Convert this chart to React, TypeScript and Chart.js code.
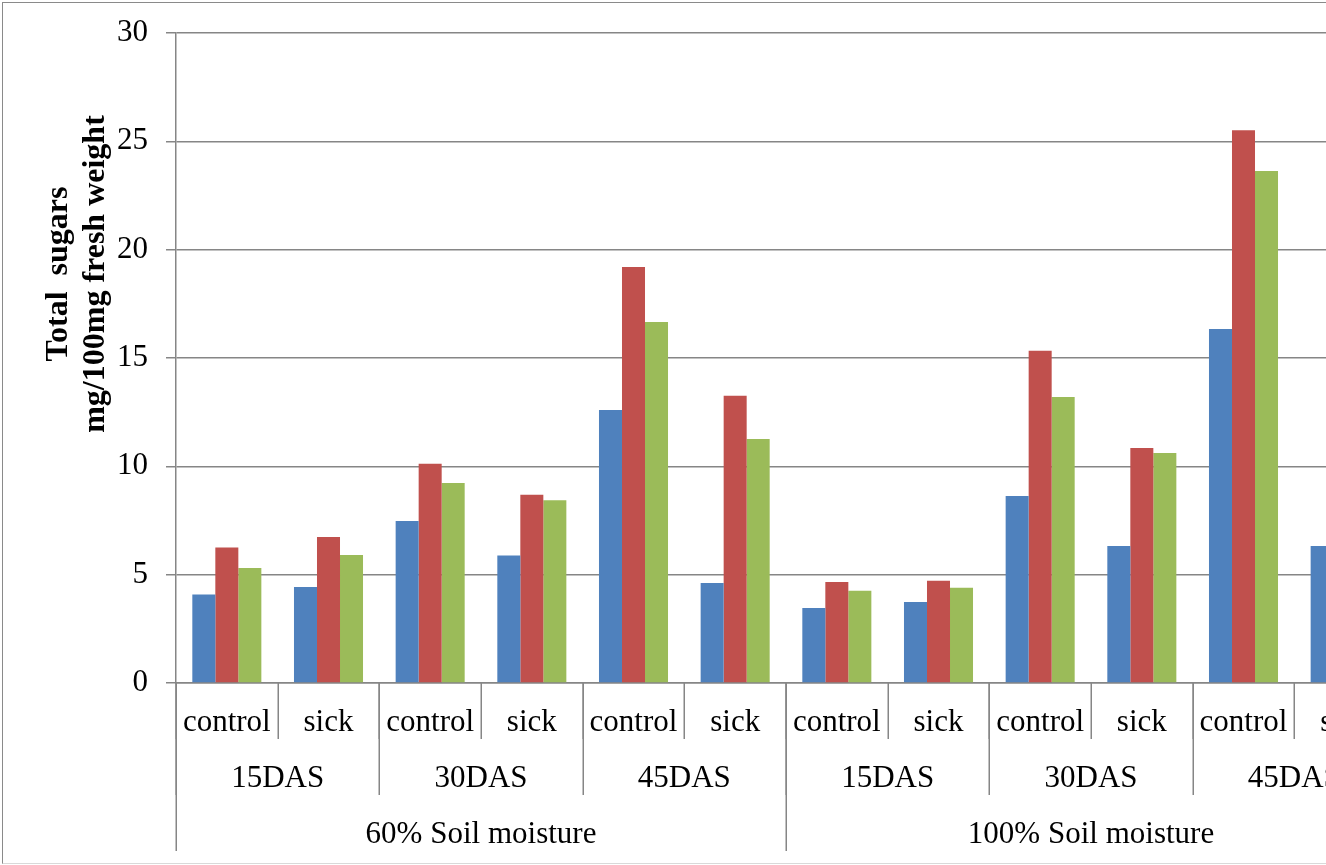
import { useEffect, useRef } from 'react';
import { Chart, registerables } from 'chart.js';

Chart.register(...registerables);

// ---- Data ----
const treatments = ['control', 'sick', 'control', 'sick', 'control', 'sick', 'control', 'sick', 'control', 'sick', 'control', 'sick'];
const stages = ['15DAS', '30DAS', '45DAS', '15DAS', '30DAS', '45DAS'];
const moistures = ['60% Soil moisture', '100% Soil moisture'];
const series1 = [4.08, 4.43, 7.48, 5.88, 12.6, 4.62, 3.46, 3.74, 8.63, 6.32, 16.34, 6.32];
const series2 = [6.25, 6.74, 10.12, 8.69, 19.2, 13.26, 4.66, 4.72, 15.34, 10.85, 25.51, 14.2];
const series3 = [5.31, 5.91, 9.23, 8.43, 16.66, 11.26, 4.26, 4.4, 13.2, 10.62, 23.63, 12.1];
const yTicks = [0, 5, 10, 15, 20, 25, 30];
const yTitleLines = ['Total  sugars', 'mg/100mg fresh weight'];

const FONT = "'Liberation Serif', 'Times New Roman', serif";
const GRID = '#868686';

const multiLevelAxis = {
  id: 'multiLevelAxis',
  afterDraw(chart: any) {
    const ctx = chart.ctx;
    const xs = chart.scales.x;
    const area = chart.chartArea;
    const top = area.bottom;
    const n = treatments.length;
    const w = xs.getPixelForValue(1) - xs.getPixelForValue(0);
    const boundary = (k: number) => (k < n ? xs.getPixelForValue(k) - w / 2 : xs.getPixelForValue(n - 1) + w / 2);
    ctx.save();
    ctx.strokeStyle = GRID;
    ctx.lineWidth = 1.5;
    const levels = [
      { labels: treatments, span: 1, lineLen: 56, base: 48 },
      { labels: stages, span: 2, lineLen: 112, base: 104 },
      { labels: moistures, span: 6, lineLen: 168, base: 160 },
    ];
    // separators
    levels.forEach((lv) => {
      for (let k = 0; k <= lv.labels.length; k++) {
        const x = Math.round(boundary(k * lv.span)) + 0.25;
        ctx.beginPath();
        ctx.moveTo(x, top);
        ctx.lineTo(x, top + lv.lineLen);
        ctx.stroke();
      }
    });
    // labels
    ctx.fillStyle = '#000';
    ctx.font = `31px ${FONT}`;
    ctx.textAlign = 'center';
    ctx.textBaseline = 'alphabetic';
    levels.forEach((lv) => {
      lv.labels.forEach((lab, i) => {
        const cx = (boundary(i * lv.span) + boundary((i + 1) * lv.span)) / 2;
        ctx.fillText(lab, cx, top + lv.base);
      });
    });
    // y title
    ctx.font = `bold 32px ${FONT}`;
    ctx.textBaseline = 'middle';
    const titleXs = [59, 96];
    yTitleLines.forEach((t, i) => {
      ctx.save();
      ctx.translate(titleXs[i], 274);
      ctx.rotate(-Math.PI / 2);
      ctx.fillText(t, 0, 0);
      ctx.restore();
    });
    ctx.restore();
  },
};

export default function App() {
  const ref = useRef<HTMLCanvasElement | null>(null);
  useEffect(() => {
    document.body.style.margin = '0';
    document.body.style.overflow = 'hidden';
    if (!ref.current) return;
    const chart = new Chart(ref.current, {
      type: 'bar',
      data: {
        labels: treatments,
        datasets: [
          { label: 'A', data: series1, backgroundColor: '#4F81BD' },
          { label: 'B', data: series2, backgroundColor: '#C0504D' },
          { label: 'C', data: series3, backgroundColor: '#9BBB59' },
        ],
      },
      options: {
        animation: false,
        responsive: false,
        devicePixelRatio: 1,
        layout: { padding: { left: 0, top: 33, right: 14, bottom: 0 } },
        datasets: { bar: { categoryPercentage: 0.679, barPercentage: 1, borderWidth: 0 } },
        plugins: { legend: { display: false }, tooltip: { enabled: false }, title: { display: false } },
        scales: {
          x: {
            grid: { display: false },
            ticks: { display: false },
            border: { display: true, color: GRID, width: 1.5 },
            afterFit: (s: any) => {
              s.height = 182;
            },
          },
          y: {
            min: 0,
            max: 30,
            afterBuildTicks: (s: any) => {
              s.ticks = yTicks.map((v) => ({ value: v }));
            },
            ticks: {
              font: { family: FONT, size: 31 },
              color: '#000',
              padding: 18,
            },
            grid: { color: GRID, lineWidth: 1.5, tickLength: 10, drawTicks: true },
            border: { display: true, color: GRID, width: 1.5 },
            afterFit: (s: any) => {
              s.width = 176;
              s.paddingTop = 0;
              s.paddingBottom = 0;
            },
          },
        },
      },
      plugins: [multiLevelAxis],
    });
    return () => chart.destroy();
  }, []);

  return (
    <div style={{ position: 'fixed', left: 0, top: 0, width: 1326, height: 865, overflow: 'hidden', background: '#fff' }}>
      <canvas ref={ref} width={1410} height={865} style={{ position: 'absolute', left: 0, top: 0, width: 1410, height: 865 }} />
      <div
        style={{
          position: 'absolute',
          left: 2,
          top: 2,
          width: 1500,
          height: 862,
          boxSizing: 'border-box',
          borderLeft: '1px solid #8a8a8a',
          borderTop: '1px solid #8a8a8a',
          borderBottom: '1px solid #d9d9d9',
          pointerEvents: 'none',
        }}
      />
    </div>
  );
}
